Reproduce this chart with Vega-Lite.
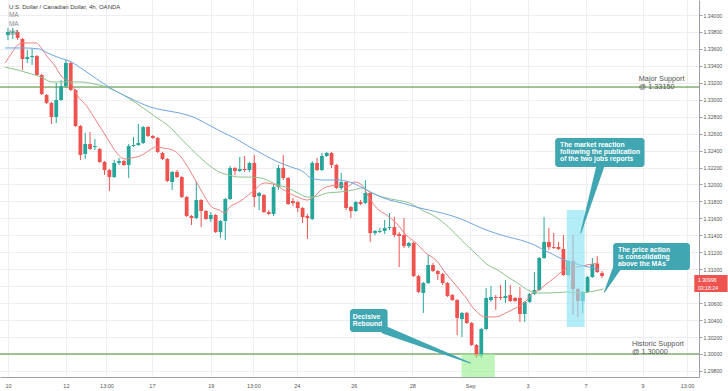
{
 "$schema": "https://vega.github.io/schema/vega-lite/v6.json",
 "width": 699, "height": 377,
 "autosize": {"type": "none"},
 "padding": {"left": 0, "top": 0, "right": 29, "bottom": 14},
 "background": "#ffffff",
 "config": {
  "view": {"stroke": null}, "font": "Liberation Sans", "text": {"font": "Liberation Sans"},
  "axisX": {"grid": true, "gridColor": "#eceef2", "gridWidth": 1, "ticks": false, "domainColor": "#9a9ea6", "domainWidth": 1, "labelFontSize": 5.5, "labelColor": "#555555", "labelPadding": 6, "labelOverlap": false, "labelFlush": false, "labelFont": "Liberation Sans"},
  "axisY": {"grid": true, "gridColor": "#eceef2", "gridWidth": 1, "tickSize": 3, "tickColor": "#9a9ea6", "domainColor": "#9a9ea6", "domainWidth": 1, "labelFontSize": 5.2, "labelColor": "#555555", "labelPadding": 1, "labelOverlap": false, "labelFlush": false, "labelFont": "Liberation Sans"}
 },
 "resolve": {"scale": {"color": "independent", "size": "independent"}},
 "datasets": {
  "candles": [
   {"i":0,"o":1.33764,"h":1.33847,"l":1.33705,"c":1.33799},
   {"i":1,"o":1.33788,"h":1.33847,"l":1.33717,"c":1.33805},
   {"i":2,"o":1.33799,"h":1.33823,"l":1.33705,"c":1.33729},
   {"i":3,"o":1.33717,"h":1.33729,"l":1.33351,"c":1.33481},
   {"i":4,"o":1.33481,"h":1.33587,"l":1.33434,"c":1.33504},
   {"i":5,"o":1.33504,"h":1.33599,"l":1.33410,"c":1.33516},
   {"i":6,"o":1.33516,"h":1.33528,"l":1.33280,"c":1.33292},
   {"i":7,"o":1.33292,"h":1.33304,"l":1.33056,"c":1.33068},
   {"i":8,"o":1.33056,"h":1.33068,"l":1.32950,"c":1.32962},
   {"i":9,"o":1.32962,"h":1.32974,"l":1.32714,"c":1.32797},
   {"i":10,"o":1.32797,"h":1.33198,"l":1.32726,"c":1.32997},
   {"i":11,"o":1.32997,"h":1.33233,"l":1.32985,"c":1.33162},
   {"i":12,"o":1.33162,"h":1.33469,"l":1.33139,"c":1.33434},
   {"i":13,"o":1.33434,"h":1.33446,"l":1.33103,"c":1.33115},
   {"i":14,"o":1.33115,"h":1.33127,"l":1.32678,"c":1.32690},
   {"i":15,"o":1.32690,"h":1.32702,"l":1.32289,"c":1.32348},
   {"i":16,"o":1.32360,"h":1.32608,"l":1.32301,"c":1.32478},
   {"i":17,"o":1.32478,"h":1.32620,"l":1.32407,"c":1.32419},
   {"i":18,"o":1.32443,"h":1.32537,"l":1.32407,"c":1.32454},
   {"i":19,"o":1.32419,"h":1.32431,"l":1.32254,"c":1.32266},
   {"i":20,"o":1.32266,"h":1.32277,"l":1.32112,"c":1.32171},
   {"i":21,"o":1.32171,"h":1.32183,"l":1.31923,"c":1.32088},
   {"i":22,"o":1.32088,"h":1.32289,"l":1.32077,"c":1.32254},
   {"i":23,"o":1.32254,"h":1.32313,"l":1.32230,"c":1.32277},
   {"i":24,"o":1.32277,"h":1.32289,"l":1.32218,"c":1.32230},
   {"i":25,"o":1.32230,"h":1.32478,"l":1.32077,"c":1.32454},
   {"i":26,"o":1.32454,"h":1.32561,"l":1.32443,"c":1.32466},
   {"i":27,"o":1.32466,"h":1.32714,"l":1.32454,"c":1.32490},
   {"i":28,"o":1.32490,"h":1.32690,"l":1.32478,"c":1.32678},
   {"i":29,"o":1.32678,"h":1.32690,"l":1.32561,"c":1.32572},
   {"i":30,"o":1.32572,"h":1.32584,"l":1.32537,"c":1.32549},
   {"i":31,"o":1.32549,"h":1.32561,"l":1.32372,"c":1.32384},
   {"i":32,"o":1.32372,"h":1.32384,"l":1.32289,"c":1.32301},
   {"i":33,"o":1.32301,"h":1.32313,"l":1.32029,"c":1.32041},
   {"i":34,"o":1.32029,"h":1.32159,"l":1.31935,"c":1.32148},
   {"i":35,"o":1.32148,"h":1.32171,"l":1.32077,"c":1.32088},
   {"i":36,"o":1.32088,"h":1.32100,"l":1.31841,"c":1.31852},
   {"i":37,"o":1.31852,"h":1.31864,"l":1.31616,"c":1.31628},
   {"i":38,"o":1.31628,"h":1.31640,"l":1.31522,"c":1.31605},
   {"i":39,"o":1.31605,"h":1.32041,"l":1.31593,"c":1.31817},
   {"i":40,"o":1.31817,"h":1.31829,"l":1.31498,"c":1.31687},
   {"i":41,"o":1.31687,"h":1.31699,"l":1.31581,"c":1.31593},
   {"i":42,"o":1.31593,"h":1.31675,"l":1.31557,"c":1.31640},
   {"i":43,"o":1.31640,"h":1.31652,"l":1.31428,"c":1.31439},
   {"i":44,"o":1.31439,"h":1.31581,"l":1.31369,"c":1.31569},
   {"i":45,"o":1.31569,"h":1.31841,"l":1.31345,"c":1.31829},
   {"i":46,"o":1.31829,"h":1.32218,"l":1.31817,"c":1.32195},
   {"i":47,"o":1.32195,"h":1.32207,"l":1.32112,"c":1.32159},
   {"i":48,"o":1.32159,"h":1.32325,"l":1.32148,"c":1.32183},
   {"i":49,"o":1.32183,"h":1.32336,"l":1.32148,"c":1.32171},
   {"i":50,"o":1.32171,"h":1.32266,"l":1.32148,"c":1.32254},
   {"i":51,"o":1.32254,"h":1.32348,"l":1.31734,"c":1.31852},
   {"i":52,"o":1.31864,"h":1.31912,"l":1.31699,"c":1.31900},
   {"i":53,"o":1.31876,"h":1.31888,"l":1.31664,"c":1.31675},
   {"i":54,"o":1.31675,"h":1.31699,"l":1.31640,"c":1.31652},
   {"i":55,"o":1.31652,"h":1.31994,"l":1.31628,"c":1.31971},
   {"i":56,"o":1.31971,"h":1.32230,"l":1.31935,"c":1.32195},
   {"i":57,"o":1.32195,"h":1.32348,"l":1.32053,"c":1.32077},
   {"i":58,"o":1.32077,"h":1.32088,"l":1.31758,"c":1.31770},
   {"i":59,"o":1.31805,"h":1.31841,"l":1.31746,"c":1.31782},
   {"i":60,"o":1.31793,"h":1.31805,"l":1.31675,"c":1.31723},
   {"i":61,"o":1.31723,"h":1.31734,"l":1.31546,"c":1.31616},
   {"i":62,"o":1.31628,"h":1.31652,"l":1.31357,"c":1.31605},
   {"i":63,"o":1.31593,"h":1.32277,"l":1.31581,"c":1.32254},
   {"i":64,"o":1.32254,"h":1.32313,"l":1.32159,"c":1.32171},
   {"i":65,"o":1.32171,"h":1.32372,"l":1.32159,"c":1.32336},
   {"i":66,"o":1.32336,"h":1.32384,"l":1.32325,"c":1.32372},
   {"i":67,"o":1.32372,"h":1.32384,"l":1.32195,"c":1.32230},
   {"i":68,"o":1.32230,"h":1.32242,"l":1.31947,"c":1.31959},
   {"i":69,"o":1.31959,"h":1.32136,"l":1.31935,"c":1.32029},
   {"i":70,"o":1.32029,"h":1.32041,"l":1.31699,"c":1.31723},
   {"i":71,"o":1.31734,"h":1.31746,"l":1.31605,"c":1.31687},
   {"i":72,"o":1.31687,"h":1.31805,"l":1.31675,"c":1.31793},
   {"i":73,"o":1.31793,"h":1.31817,"l":1.31758,"c":1.31770},
   {"i":74,"o":1.31782,"h":1.32053,"l":1.31770,"c":1.31900},
   {"i":75,"o":1.31900,"h":1.31912,"l":1.31322,"c":1.31428},
   {"i":76,"o":1.31428,"h":1.31463,"l":1.31404,"c":1.31451},
   {"i":77,"o":1.31439,"h":1.31487,"l":1.31428,"c":1.31451},
   {"i":78,"o":1.31451,"h":1.31581,"l":1.31416,"c":1.31487},
   {"i":79,"o":1.31487,"h":1.31664,"l":1.31463,"c":1.31498},
   {"i":80,"o":1.31498,"h":1.31616,"l":1.31380,"c":1.31404},
   {"i":81,"o":1.31416,"h":1.31439,"l":1.31026,"c":1.31392},
   {"i":82,"o":1.31404,"h":1.31605,"l":1.31251,"c":1.31274},
   {"i":83,"o":1.31274,"h":1.31322,"l":1.31251,"c":1.31310},
   {"i":84,"o":1.31310,"h":1.31322,"l":1.30908,"c":1.30920},
   {"i":85,"o":1.30920,"h":1.30932,"l":1.30720,"c":1.30732},
   {"i":86,"o":1.30720,"h":1.30850,"l":1.30484,"c":1.30838},
   {"i":87,"o":1.30838,"h":1.31168,"l":1.30826,"c":1.31050},
   {"i":88,"o":1.31050,"h":1.31074,"l":1.30967,"c":1.30979},
   {"i":89,"o":1.30979,"h":1.30991,"l":1.30873,"c":1.30944},
   {"i":90,"o":1.30944,"h":1.30956,"l":1.30814,"c":1.30838},
   {"i":91,"o":1.30838,"h":1.30850,"l":1.30673,"c":1.30684},
   {"i":92,"o":1.30696,"h":1.30708,"l":1.30625,"c":1.30637},
   {"i":93,"o":1.30637,"h":1.30649,"l":1.30224,"c":1.30425},
   {"i":94,"o":1.30413,"h":1.30496,"l":1.30200,"c":1.30484},
   {"i":95,"o":1.30484,"h":1.30496,"l":1.30354,"c":1.30366},
   {"i":96,"o":1.30366,"h":1.30377,"l":1.30094,"c":1.30106},
   {"i":97,"o":1.30106,"h":1.30118,"l":1.29953,"c":1.29976},
   {"i":98,"o":1.29976,"h":1.30307,"l":1.29953,"c":1.30295},
   {"i":99,"o":1.30295,"h":1.30779,"l":1.30283,"c":1.30661},
   {"i":100,"o":1.30637,"h":1.30802,"l":1.30614,"c":1.30673},
   {"i":101,"o":1.30673,"h":1.30696,"l":1.30519,"c":1.30661},
   {"i":102,"o":1.30673,"h":1.30814,"l":1.30637,"c":1.30661},
   {"i":103,"o":1.30661,"h":1.30873,"l":1.30602,"c":1.30684},
   {"i":104,"o":1.30696,"h":1.30814,"l":1.30614,"c":1.30625},
   {"i":105,"o":1.30661,"h":1.30673,"l":1.30614,"c":1.30625},
   {"i":106,"o":1.30661,"h":1.30791,"l":1.30377,"c":1.30472},
   {"i":107,"o":1.30472,"h":1.30625,"l":1.30377,"c":1.30614},
   {"i":108,"o":1.30614,"h":1.30720,"l":1.30602,"c":1.30708},
   {"i":109,"o":1.30708,"h":1.30967,"l":1.30696,"c":1.30755},
   {"i":110,"o":1.30755,"h":1.31145,"l":1.30743,"c":1.31133},
   {"i":111,"o":1.31133,"h":1.31616,"l":1.31121,"c":1.31322},
   {"i":112,"o":1.31322,"h":1.31487,"l":1.31227,"c":1.31262},
   {"i":113,"o":1.31262,"h":1.31428,"l":1.31239,"c":1.31251},
   {"i":114,"o":1.31262,"h":1.31322,"l":1.31227,"c":1.31239},
   {"i":115,"o":1.31239,"h":1.31404,"l":1.30920,"c":1.30932},
   {"i":116,"o":1.30932,"h":1.31109,"l":1.30920,"c":1.31097},
   {"i":117,"o":1.31097,"h":1.31404,"l":1.30460,"c":1.30767},
   {"i":118,"o":1.30767,"h":1.30779,"l":1.30437,"c":1.30625},
   {"i":119,"o":1.30625,"h":1.30743,"l":1.30484,"c":1.30732},
   {"i":120,"o":1.30732,"h":1.30920,"l":1.30720,"c":1.30908},
   {"i":121,"o":1.30908,"h":1.31133,"l":1.30897,"c":1.31062},
   {"i":122,"o":1.31062,"h":1.31156,"l":1.30956,"c":1.30967},
   {"i":123,"o":1.30956,"h":1.30979,"l":1.30897,"c":1.30920}
  ],
  "ma": [
   {"s":"r","i":-0.6,"p":1.33434},{"s":"r","i":0.8,"p":1.33552},{"s":"r","i":2.0,"p":1.33646},{"s":"r","i":3.1,"p":1.33670},{"s":"r","i":5.9,"p":1.33670},{"s":"r","i":6.9,"p":1.33611},{"s":"r","i":8.2,"p":1.33504},{"s":"r","i":9.6,"p":1.33410},{"s":"r","i":11.2,"p":1.33269},{"s":"r","i":12.2,"p":1.33233},{"s":"r","i":13.1,"p":1.33198},{"s":"r","i":14.3,"p":1.33056},{"s":"r","i":16.3,"p":1.32926},{"s":"r","i":18.4,"p":1.32738},{"s":"r","i":20.4,"p":1.32561},{"s":"r","i":21.8,"p":1.32431},{"s":"r","i":23.3,"p":1.32325},{"s":"r","i":24.3,"p":1.32301},{"s":"r","i":25.5,"p":1.32313},{"s":"r","i":27.3,"p":1.32336},{"s":"r","i":29.4,"p":1.32407},{"s":"r","i":30.6,"p":1.32443},{"s":"r","i":32.0,"p":1.32431},{"s":"r","i":34.1,"p":1.32407},{"s":"r","i":35.5,"p":1.32348},{"s":"r","i":36.7,"p":1.32254},{"s":"r","i":38.2,"p":1.32112},{"s":"r","i":39.6,"p":1.31971},{"s":"r","i":40.8,"p":1.31852},{"s":"r","i":42.2,"p":1.31734},{"s":"r","i":43.7,"p":1.31699},{"s":"r","i":44.9,"p":1.31664},{"s":"r","i":45.9,"p":1.31734},{"s":"r","i":47.8,"p":1.31793},{"s":"r","i":49.8,"p":1.31876},{"s":"r","i":51.0,"p":1.31935},{"s":"r","i":53.1,"p":1.32018},{"s":"r","i":55.5,"p":1.31994},{"s":"r","i":57.1,"p":1.31935},{"s":"r","i":60.0,"p":1.31852},{"s":"r","i":62.0,"p":1.31817},{"s":"r","i":63.3,"p":1.31852},{"s":"r","i":65.1,"p":1.31947},{"s":"r","i":66.7,"p":1.31982},{"s":"r","i":68.4,"p":1.31994},{"s":"r","i":70.2,"p":1.31971},{"s":"r","i":71.8,"p":1.32029},{"s":"r","i":73.3,"p":1.31994},{"s":"r","i":74.5,"p":1.31876},{"s":"r","i":76.3,"p":1.31723},{"s":"r","i":78.4,"p":1.31640},{"s":"r","i":80.4,"p":1.31546},{"s":"r","i":82.4,"p":1.31404},{"s":"r","i":84.5,"p":1.31310},{"s":"r","i":86.5,"p":1.31192},{"s":"r","i":88.6,"p":1.31109},{"s":"r","i":90.6,"p":1.30956},{"s":"r","i":92.7,"p":1.30814},{"s":"r","i":94.7,"p":1.30673},{"s":"r","i":96.7,"p":1.30519},{"s":"r","i":98.8,"p":1.30437},{"s":"r","i":100.8,"p":1.30437},{"s":"r","i":103.5,"p":1.30496},{"s":"r","i":105.5,"p":1.30555},{"s":"r","i":107.1,"p":1.30614},{"s":"r","i":108.6,"p":1.30720},{"s":"r","i":110.0,"p":1.30755},{"s":"r","i":111.2,"p":1.30814},{"s":"r","i":113.1,"p":1.30897},{"s":"r","i":114.3,"p":1.30956},{"s":"r","i":115.7,"p":1.31015},{"s":"r","i":117.8,"p":1.31026},{"s":"r","i":119.8,"p":1.31050},{"s":"r","i":122.4,"p":1.31074},
   {"s":"g","i":-0.6,"p":1.33386},{"s":"g","i":2.0,"p":1.33351},{"s":"g","i":4.9,"p":1.33304},{"s":"g","i":6.9,"p":1.33268},{"s":"g","i":9.0,"p":1.33210},{"s":"g","i":11.0,"p":1.33210},{"s":"g","i":13.1,"p":1.33210},{"s":"g","i":15.1,"p":1.33210},{"s":"g","i":17.8,"p":1.33186},{"s":"g","i":19.8,"p":1.33162},{"s":"g","i":21.8,"p":1.33115},{"s":"g","i":23.9,"p":1.33056},{"s":"g","i":26.5,"p":1.32962},{"s":"g","i":28.6,"p":1.32879},{"s":"g","i":30.6,"p":1.32797},{"s":"g","i":33.5,"p":1.32679},{"s":"g","i":36.1,"p":1.32525},{"s":"g","i":38.8,"p":1.32372},{"s":"g","i":41.6,"p":1.32230},{"s":"g","i":43.7,"p":1.32148},{"s":"g","i":45.7,"p":1.32112},{"s":"g","i":47.8,"p":1.32088},{"s":"g","i":49.8,"p":1.32088},{"s":"g","i":52.4,"p":1.32077},{"s":"g","i":54.5,"p":1.32029},{"s":"g","i":55.9,"p":1.31994},{"s":"g","i":58.0,"p":1.31959},{"s":"g","i":60.0,"p":1.31900},{"s":"g","i":62.0,"p":1.31852},{"s":"g","i":63.3,"p":1.31852},{"s":"g","i":66.1,"p":1.31900},{"s":"g","i":68.8,"p":1.31912},{"s":"g","i":71.4,"p":1.31935},{"s":"g","i":73.5,"p":1.31959},{"s":"g","i":74.9,"p":1.31912},{"s":"g","i":77.6,"p":1.31852},{"s":"g","i":80.4,"p":1.31817},{"s":"g","i":83.1,"p":1.31782},{"s":"g","i":85.7,"p":1.31699},{"s":"g","i":88.6,"p":1.31616},{"s":"g","i":91.2,"p":1.31498},{"s":"g","i":93.9,"p":1.31345},{"s":"g","i":96.7,"p":1.31192},{"s":"g","i":99.4,"p":1.31050},{"s":"g","i":101.4,"p":1.30991},{"s":"g","i":103.5,"p":1.30908},{"s":"g","i":105.5,"p":1.30838},{"s":"g","i":107.6,"p":1.30755},{"s":"g","i":109.6,"p":1.30720},{"s":"g","i":112.2,"p":1.30720},{"s":"g","i":115.7,"p":1.30732},{"s":"g","i":118.4,"p":1.30720},{"s":"g","i":120.4,"p":1.30732},{"s":"g","i":123.3,"p":1.30767},
   {"s":"b","i":-0.6,"p":1.33611},{"s":"b","i":3.5,"p":1.33611},{"s":"b","i":6.5,"p":1.33599},{"s":"b","i":8.2,"p":1.33552},{"s":"b","i":10.2,"p":1.33504},{"s":"b","i":13.1,"p":1.33446},{"s":"b","i":15.7,"p":1.33351},{"s":"b","i":18.4,"p":1.33245},{"s":"b","i":21.2,"p":1.33139},{"s":"b","i":23.9,"p":1.33056},{"s":"b","i":26.5,"p":1.32985},{"s":"b","i":29.4,"p":1.32915},{"s":"b","i":32.0,"p":1.32879},{"s":"b","i":35.5,"p":1.32844},{"s":"b","i":38.8,"p":1.32785},{"s":"b","i":41.6,"p":1.32702},{"s":"b","i":44.3,"p":1.32620},{"s":"b","i":46.9,"p":1.32549},{"s":"b","i":50.4,"p":1.32431},{"s":"b","i":53.1,"p":1.32348},{"s":"b","i":55.9,"p":1.32266},{"s":"b","i":58.6,"p":1.32207},{"s":"b","i":61.2,"p":1.32148},{"s":"b","i":62.7,"p":1.32077},{"s":"b","i":65.3,"p":1.32053},{"s":"b","i":68.2,"p":1.32053},{"s":"b","i":70.8,"p":1.32029},{"s":"b","i":73.5,"p":1.31959},{"s":"b","i":76.3,"p":1.31876},{"s":"b","i":79.0,"p":1.31817},{"s":"b","i":81.6,"p":1.31782},{"s":"b","i":84.5,"p":1.31734},{"s":"b","i":87.1,"p":1.31699},{"s":"b","i":89.8,"p":1.31664},{"s":"b","i":92.7,"p":1.31616},{"s":"b","i":95.3,"p":1.31557},{"s":"b","i":98.0,"p":1.31487},{"s":"b","i":100.8,"p":1.31428},{"s":"b","i":103.5,"p":1.31381},{"s":"b","i":106.1,"p":1.31345},{"s":"b","i":109.0,"p":1.31286},{"s":"b","i":111.0,"p":1.31227},{"s":"b","i":113.1,"p":1.31168},{"s":"b","i":115.1,"p":1.31109},{"s":"b","i":117.1,"p":1.31074},{"s":"b","i":119.2,"p":1.31038},{"s":"b","i":121.2,"p":1.31015},{"s":"b","i":122.4,"p":1.30991}
  ],
  "supports": [{"p":1.3315},{"p":1.3}],
  "zones": [
   {"z":"green","x1":93.9,"x2":100.8,"y1":1.3,"y2":1.297286},
   {"z":"blue","x1":115.7,"x2":119.4,"y1":1.31699,"y2":1.30319}
  ],
  "boxes": [
   {"x1":113.3,"x2":131.8,"y1":1.32549,"y2":1.32206},
   {"x1":125.3,"x2":141.2,"y1":1.3131,"y2":1.30991},
   {"x1":70.8,"x2":78.6,"y1":1.30531,"y2":1.3026}
  ],
  "pointers": [
   {"id":"a","end":"base","i":122.7,"p":1.32226},{"id":"a","end":"tip","i":118.6,"p":1.31428},
   {"id":"b","end":"base","i":126.1,"p":1.31015},{"id":"b","end":"tip","i":123.5,"p":1.30732},
   {"id":"c","end":"base","i":78.0,"p":1.30283},{"id":"c","end":"tip","i":95.7,"p":1.29894}
  ],
  "callouts": [
   {"i":114.3,"p":1.32466,"t":"The market reaction\nfollowing the publication\nof the two jobs reports"},
   {"i":126.3,"p":1.31227,"t":"The price action\nis consolidating\nabove the MAs"},
   {"i":71.4,"p":1.30437,"t":"Decisive\nRebound"}
  ],
  "notes": [
   {"i":130.6,"p":1.33245,"t":"Major Support\n@ 1.33150"},
   {"i":129.2,"p":1.30118,"t":"Historic Support\n@ 1.30000"}
  ],
  "title": [{"i":0.2,"p":1.34094,"t":"U.S. Dollar / Canadian Dollar, 4h, OANDA"}],
  "malabels": [{"i":0.2,"p":1.33999,"t":"MA"},{"i":0.2,"p":1.33893,"t":"MA"},{"i":0.2,"p":1.33788,"t":"MA"}],
  "lastprice": [{"x1":142.1,"x2":149,"y1":1.30932,"y2":1.30732}],
  "lastlabels": [
   {"i":142.85,"p":1.30873,"t":"1.30996"},
   {"i":142.85,"p":1.30779,"t":"03:18:24"}
  ]
 },
 "layer": [
  {
   "data": {"name": "candles"},
   "mark": {"type": "rule", "strokeWidth": 1},
   "encoding": {
    "x": {"field": "i", "type": "quantitative", "scale": {"domain": [-0.61, 142.04], "nice": false, "zero": false},
     "axis": {"orient": "bottom", "title": null, "values": [0,12,20.4,29.8,42,50.8,59.8,71.6,83.7,95.7,107.6,119.6,131.4,140.6],
      "labelExpr": "['10','12','13:00','17','19','13:00','24','26','28','Sep','3','7','9','13:00'][indexof([0,12,20.4,29.8,42,50.8,59.8,71.6,83.7,95.7,107.6,119.6,131.4,140.6], datum.value)]"}},
    "y": {"field": "l", "type": "quantitative", "scale": {"domain": [1.297286, 1.34177], "nice": false, "zero": false},
     "axis": {"orient": "right", "title": null, "labelExpr": "abs(datum.value - 1.308) < 0.0001 ? '' : format(datum.value, '.5f')", "values": [1.298,1.3,1.302,1.304,1.306,1.308,1.31,1.312,1.314,1.316,1.318,1.32,1.322,1.324,1.326,1.328,1.33,1.332,1.334,1.336,1.338,1.34]}},
    "y2": {"field": "h"},
    "color": {"condition": {"test": "datum.c >= datum.o", "value": "#26a69a"}, "value": "#ef5350"}
   }
  },
  {
   "data": {"name": "supports"},
   "mark": {"type": "rule", "color": "#4a8a2c", "strokeWidth": 1},
   "encoding": {
    "y": {"field": "p", "type": "quantitative", "scale": {"domain": [1.297286, 1.34177], "nice": false, "zero": false},
     "axis": {"orient": "right", "title": null, "labelExpr": "abs(datum.value - 1.308) < 0.0001 ? '' : format(datum.value, '.5f')", "values": [1.298,1.3,1.302,1.304,1.306,1.308,1.31,1.312,1.314,1.316,1.318,1.32,1.322,1.324,1.326,1.328,1.33,1.332,1.334,1.336,1.338,1.34]}}
   }
  },
  {
   "data": {"name": "candles"},
   "mark": {"type": "bar", "width": 3.8},
   "encoding": {
    "x": {"field": "i", "type": "quantitative", "scale": {"domain": [-0.61, 142.04], "nice": false, "zero": false},
     "axis": {"orient": "bottom", "title": null, "values": [0,12,20.4,29.8,42,50.8,59.8,71.6,83.7,95.7,107.6,119.6,131.4,140.6],
      "labelExpr": "['10','12','13:00','17','19','13:00','24','26','28','Sep','3','7','9','13:00'][indexof([0,12,20.4,29.8,42,50.8,59.8,71.6,83.7,95.7,107.6,119.6,131.4,140.6], datum.value)]"}},
    "y": {"field": "o", "type": "quantitative", "scale": {"domain": [1.297286, 1.34177], "nice": false, "zero": false},
     "axis": {"orient": "right", "title": null, "labelExpr": "abs(datum.value - 1.308) < 0.0001 ? '' : format(datum.value, '.5f')", "values": [1.298,1.3,1.302,1.304,1.306,1.308,1.31,1.312,1.314,1.316,1.318,1.32,1.322,1.324,1.326,1.328,1.33,1.332,1.334,1.336,1.338,1.34]}},
    "y2": {"field": "c"},
    "color": {"condition": {"test": "datum.c >= datum.o", "value": "#26a69a"}, "value": "#ef5350"}
   }
  },
  {
   "data": {"name": "ma"},
   "mark": {"type": "line", "strokeWidth": 1, "interpolate": "monotone"},
   "encoding": {
    "x": {"field": "i", "type": "quantitative", "scale": {"domain": [-0.61, 142.04], "nice": false, "zero": false},
     "axis": {"orient": "bottom", "title": null, "values": [0,12,20.4,29.8,42,50.8,59.8,71.6,83.7,95.7,107.6,119.6,131.4,140.6],
      "labelExpr": "['10','12','13:00','17','19','13:00','24','26','28','Sep','3','7','9','13:00'][indexof([0,12,20.4,29.8,42,50.8,59.8,71.6,83.7,95.7,107.6,119.6,131.4,140.6], datum.value)]"}},
    "y": {"field": "p", "type": "quantitative", "scale": {"domain": [1.297286, 1.34177], "nice": false, "zero": false},
     "axis": {"orient": "right", "title": null, "labelExpr": "abs(datum.value - 1.308) < 0.0001 ? '' : format(datum.value, '.5f')", "values": [1.298,1.3,1.302,1.304,1.306,1.308,1.31,1.312,1.314,1.316,1.318,1.32,1.322,1.324,1.326,1.328,1.33,1.332,1.334,1.336,1.338,1.34]}},
    "color": {"field": "s", "type": "nominal", "scale": {"domain": ["r", "g", "b"], "range": ["#f08080", "#8cc38a", "#6ea6e2"]}, "legend": null}
   }
  },
  {
   "data": {"name": "zones"},
   "mark": {"type": "rect", "opacity": 0.65},
   "encoding": {
    "x": {"field": "x1", "type": "quantitative", "scale": {"domain": [-0.61, 142.04], "nice": false, "zero": false},
     "axis": {"orient": "bottom", "title": null, "values": [0,12,20.4,29.8,42,50.8,59.8,71.6,83.7,95.7,107.6,119.6,131.4,140.6],
      "labelExpr": "['10','12','13:00','17','19','13:00','24','26','28','Sep','3','7','9','13:00'][indexof([0,12,20.4,29.8,42,50.8,59.8,71.6,83.7,95.7,107.6,119.6,131.4,140.6], datum.value)]"}},
    "x2": {"field": "x2"},
    "y": {"field": "y1", "type": "quantitative", "scale": {"domain": [1.297286, 1.34177], "nice": false, "zero": false},
     "axis": {"orient": "right", "title": null, "labelExpr": "abs(datum.value - 1.308) < 0.0001 ? '' : format(datum.value, '.5f')", "values": [1.298,1.3,1.302,1.304,1.306,1.308,1.31,1.312,1.314,1.316,1.318,1.32,1.322,1.324,1.326,1.328,1.33,1.332,1.334,1.336,1.338,1.34]}},
    "y2": {"field": "y2"},
    "color": {"field": "z", "type": "nominal", "scale": {"domain": ["green", "blue"], "range": ["#9ef095", "#8ae4f2"]}, "legend": null}
   }
  },
  {
   "data": {"name": "pointers"},
   "mark": {"type": "trail", "color": "#3fa6b2"},
   "encoding": {
    "x": {"field": "i", "type": "quantitative", "scale": {"domain": [-0.61, 142.04], "nice": false, "zero": false},
     "axis": {"orient": "bottom", "title": null, "values": [0,12,20.4,29.8,42,50.8,59.8,71.6,83.7,95.7,107.6,119.6,131.4,140.6],
      "labelExpr": "['10','12','13:00','17','19','13:00','24','26','28','Sep','3','7','9','13:00'][indexof([0,12,20.4,29.8,42,50.8,59.8,71.6,83.7,95.7,107.6,119.6,131.4,140.6], datum.value)]"}},
    "y": {"field": "p", "type": "quantitative", "scale": {"domain": [1.297286, 1.34177], "nice": false, "zero": false},
     "axis": {"orient": "right", "title": null, "labelExpr": "abs(datum.value - 1.308) < 0.0001 ? '' : format(datum.value, '.5f')", "values": [1.298,1.3,1.302,1.304,1.306,1.308,1.31,1.312,1.314,1.316,1.318,1.32,1.322,1.324,1.326,1.328,1.33,1.332,1.334,1.336,1.338,1.34]}},
    "size": {"field": "end", "type": "ordinal", "scale": {"domain": ["base", "tip"], "range": [8, 1]}, "legend": null},
    "detail": {"field": "id"}
   }
  },
  {
   "data": {"name": "boxes"},
   "mark": {"type": "rect", "color": "#3fa6b2", "cornerRadius": 3},
   "encoding": {
    "x": {"field": "x1", "type": "quantitative", "scale": {"domain": [-0.61, 142.04], "nice": false, "zero": false},
     "axis": {"orient": "bottom", "title": null, "values": [0,12,20.4,29.8,42,50.8,59.8,71.6,83.7,95.7,107.6,119.6,131.4,140.6],
      "labelExpr": "['10','12','13:00','17','19','13:00','24','26','28','Sep','3','7','9','13:00'][indexof([0,12,20.4,29.8,42,50.8,59.8,71.6,83.7,95.7,107.6,119.6,131.4,140.6], datum.value)]"}},
    "x2": {"field": "x2"},
    "y": {"field": "y1", "type": "quantitative", "scale": {"domain": [1.297286, 1.34177], "nice": false, "zero": false},
     "axis": {"orient": "right", "title": null, "labelExpr": "abs(datum.value - 1.308) < 0.0001 ? '' : format(datum.value, '.5f')", "values": [1.298,1.3,1.302,1.304,1.306,1.308,1.31,1.312,1.314,1.316,1.318,1.32,1.322,1.324,1.326,1.328,1.33,1.332,1.334,1.336,1.338,1.34]}},
    "y2": {"field": "y2"}
   }
  },
  {
   "data": {"name": "callouts"},
   "mark": {"type": "text", "align": "left", "baseline": "middle", "fontSize": 6.8, "fontWeight": "bold", "color": "#ffffff", "lineBreak": "\n", "lineHeight": 7.2, "font": "Liberation Sans"},
   "encoding": {
    "x": {"field": "i", "type": "quantitative", "scale": {"domain": [-0.61, 142.04], "nice": false, "zero": false},
     "axis": {"orient": "bottom", "title": null, "values": [0,12,20.4,29.8,42,50.8,59.8,71.6,83.7,95.7,107.6,119.6,131.4,140.6],
      "labelExpr": "['10','12','13:00','17','19','13:00','24','26','28','Sep','3','7','9','13:00'][indexof([0,12,20.4,29.8,42,50.8,59.8,71.6,83.7,95.7,107.6,119.6,131.4,140.6], datum.value)]"}},
    "y": {"field": "p", "type": "quantitative", "scale": {"domain": [1.297286, 1.34177], "nice": false, "zero": false},
     "axis": {"orient": "right", "title": null, "labelExpr": "abs(datum.value - 1.308) < 0.0001 ? '' : format(datum.value, '.5f')", "values": [1.298,1.3,1.302,1.304,1.306,1.308,1.31,1.312,1.314,1.316,1.318,1.32,1.322,1.324,1.326,1.328,1.33,1.332,1.334,1.336,1.338,1.34]}},
    "text": {"field": "t"}
   }
  },
  {
   "data": {"name": "notes"},
   "mark": {"type": "text", "align": "left", "baseline": "middle", "fontSize": 7.3, "color": "#555555", "lineBreak": "\n", "lineHeight": 7.6, "font": "Liberation Sans"},
   "encoding": {
    "x": {"field": "i", "type": "quantitative", "scale": {"domain": [-0.61, 142.04], "nice": false, "zero": false},
     "axis": {"orient": "bottom", "title": null, "values": [0,12,20.4,29.8,42,50.8,59.8,71.6,83.7,95.7,107.6,119.6,131.4,140.6],
      "labelExpr": "['10','12','13:00','17','19','13:00','24','26','28','Sep','3','7','9','13:00'][indexof([0,12,20.4,29.8,42,50.8,59.8,71.6,83.7,95.7,107.6,119.6,131.4,140.6], datum.value)]"}},
    "y": {"field": "p", "type": "quantitative", "scale": {"domain": [1.297286, 1.34177], "nice": false, "zero": false},
     "axis": {"orient": "right", "title": null, "labelExpr": "abs(datum.value - 1.308) < 0.0001 ? '' : format(datum.value, '.5f')", "values": [1.298,1.3,1.302,1.304,1.306,1.308,1.31,1.312,1.314,1.316,1.318,1.32,1.322,1.324,1.326,1.328,1.33,1.332,1.334,1.336,1.338,1.34]}},
    "text": {"field": "t"}
   }
  },
  {
   "data": {"name": "title"},
   "mark": {"type": "text", "align": "left", "baseline": "middle", "fontSize": 6, "color": "#3a3a3a", "font": "Liberation Sans"},
   "encoding": {
    "x": {"field": "i", "type": "quantitative", "scale": {"domain": [-0.61, 142.04], "nice": false, "zero": false},
     "axis": {"orient": "bottom", "title": null, "values": [0,12,20.4,29.8,42,50.8,59.8,71.6,83.7,95.7,107.6,119.6,131.4,140.6],
      "labelExpr": "['10','12','13:00','17','19','13:00','24','26','28','Sep','3','7','9','13:00'][indexof([0,12,20.4,29.8,42,50.8,59.8,71.6,83.7,95.7,107.6,119.6,131.4,140.6], datum.value)]"}},
    "y": {"field": "p", "type": "quantitative", "scale": {"domain": [1.297286, 1.34177], "nice": false, "zero": false},
     "axis": {"orient": "right", "title": null, "labelExpr": "abs(datum.value - 1.308) < 0.0001 ? '' : format(datum.value, '.5f')", "values": [1.298,1.3,1.302,1.304,1.306,1.308,1.31,1.312,1.314,1.316,1.318,1.32,1.322,1.324,1.326,1.328,1.33,1.332,1.334,1.336,1.338,1.34]}},
    "text": {"field": "t"}
   }
  },
  {
   "data": {"name": "malabels"},
   "mark": {"type": "text", "align": "left", "baseline": "middle", "fontSize": 6.5, "color": "#8a8a8a", "font": "Liberation Sans"},
   "encoding": {
    "x": {"field": "i", "type": "quantitative", "scale": {"domain": [-0.61, 142.04], "nice": false, "zero": false},
     "axis": {"orient": "bottom", "title": null, "values": [0,12,20.4,29.8,42,50.8,59.8,71.6,83.7,95.7,107.6,119.6,131.4,140.6],
      "labelExpr": "['10','12','13:00','17','19','13:00','24','26','28','Sep','3','7','9','13:00'][indexof([0,12,20.4,29.8,42,50.8,59.8,71.6,83.7,95.7,107.6,119.6,131.4,140.6], datum.value)]"}},
    "y": {"field": "p", "type": "quantitative", "scale": {"domain": [1.297286, 1.34177], "nice": false, "zero": false},
     "axis": {"orient": "right", "title": null, "labelExpr": "abs(datum.value - 1.308) < 0.0001 ? '' : format(datum.value, '.5f')", "values": [1.298,1.3,1.302,1.304,1.306,1.308,1.31,1.312,1.314,1.316,1.318,1.32,1.322,1.324,1.326,1.328,1.33,1.332,1.334,1.336,1.338,1.34]}},
    "text": {"field": "t"}
   }
  },
  {
   "data": {"name": "lastprice"},
   "mark": {"type": "rect", "color": "#ef5350", "clip": false},
   "encoding": {
    "x": {"field": "x1", "type": "quantitative", "scale": {"domain": [-0.61, 142.04], "nice": false, "zero": false},
     "axis": {"orient": "bottom", "title": null, "values": [0,12,20.4,29.8,42,50.8,59.8,71.6,83.7,95.7,107.6,119.6,131.4,140.6],
      "labelExpr": "['10','12','13:00','17','19','13:00','24','26','28','Sep','3','7','9','13:00'][indexof([0,12,20.4,29.8,42,50.8,59.8,71.6,83.7,95.7,107.6,119.6,131.4,140.6], datum.value)]"}},
    "x2": {"field": "x2"},
    "y": {"field": "y1", "type": "quantitative", "scale": {"domain": [1.297286, 1.34177], "nice": false, "zero": false},
     "axis": {"orient": "right", "title": null, "labelExpr": "abs(datum.value - 1.308) < 0.0001 ? '' : format(datum.value, '.5f')", "values": [1.298,1.3,1.302,1.304,1.306,1.308,1.31,1.312,1.314,1.316,1.318,1.32,1.322,1.324,1.326,1.328,1.33,1.332,1.334,1.336,1.338,1.34]}},
    "y2": {"field": "y2"}
   }
  },
  {
   "data": {"name": "lastlabels"},
   "mark": {"type": "text", "align": "left", "baseline": "middle", "fontSize": 5.2, "color": "#ffffff", "font": "Liberation Sans"},
   "encoding": {
    "x": {"field": "i", "type": "quantitative", "scale": {"domain": [-0.61, 142.04], "nice": false, "zero": false},
     "axis": {"orient": "bottom", "title": null, "values": [0,12,20.4,29.8,42,50.8,59.8,71.6,83.7,95.7,107.6,119.6,131.4,140.6],
      "labelExpr": "['10','12','13:00','17','19','13:00','24','26','28','Sep','3','7','9','13:00'][indexof([0,12,20.4,29.8,42,50.8,59.8,71.6,83.7,95.7,107.6,119.6,131.4,140.6], datum.value)]"}},
    "y": {"field": "p", "type": "quantitative", "scale": {"domain": [1.297286, 1.34177], "nice": false, "zero": false},
     "axis": {"orient": "right", "title": null, "labelExpr": "abs(datum.value - 1.308) < 0.0001 ? '' : format(datum.value, '.5f')", "values": [1.298,1.3,1.302,1.304,1.306,1.308,1.31,1.312,1.314,1.316,1.318,1.32,1.322,1.324,1.326,1.328,1.33,1.332,1.334,1.336,1.338,1.34]}},
    "text": {"field": "t"}
   }
  }
 ]
}
